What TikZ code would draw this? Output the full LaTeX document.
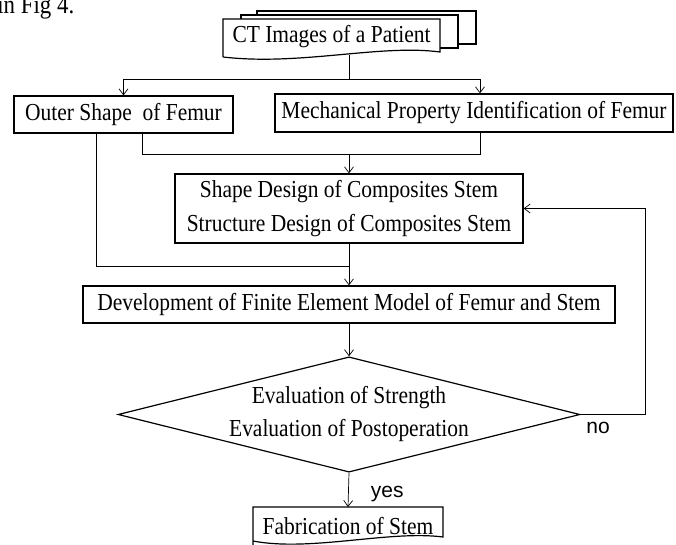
\documentclass[tikz,border=0pt]{standalone}
\usepackage{fontspec}
\setmainfont{Liberation Serif}[FakeStretch=0.88]
\newfontfamily\lblfont{Liberation Sans}
\usepackage{tikz}
\usetikzlibrary{positioning}
\usetikzlibrary{arrows.meta, shapes.geometric}

\begin{document}
\begin{tikzpicture}[x=1pt, y=-1pt, line width=0.7pt,
  box/.style = {draw, line width=1.2pt, inner sep=0pt, font=\fontsize{24.4}{34}\selectfont, align=center},
  decision/.style = {draw, diamond, line width=1.2pt, inner sep=0pt, aspect=4, font=\fontsize{24.4}{33}\selectfont, align=center},
  doc/.style = {inner sep=0pt, font=\fontsize{24.4}{34}\selectfont},
  lbl/.style = {inner sep=0pt, font=\lblfont\fontsize{21}{25}\selectfont},
  >={Straight Barb[length=6pt, width=9pt]}]
\useasboundingbox (0,0) rectangle (676,545);
\clip (0,0) rectangle (676,545);
\node[doc, anchor=base west, font=\fontsize{26}{30}\selectfont] (figref) at (-3,14) {in Fig 4.};
% stack of CT pages
\draw[line width=1.2pt, fill=white] (257,11) rectangle (476,44);
\draw[line width=1.2pt, fill=white] (241,15) rectangle (458,48);
\draw[line width=1.2pt, fill=white] (223,57) -- (223,19) -- (440,19) -- (440,52) .. controls (380,44) and (300,66) .. (223,57);
\node[doc] (ct) at (331.5,37) {CT Images of a Patient};
% output page
\draw[line width=1.2pt] (253,550) -- (253,507) -- (443,507) -- (443,537) .. controls (390,530) and (310,552) .. (253,541);
\node[doc] (fab) at (348,526) {Fabrication of Stem};
\coordinate (fabtop) at (348,507);

\node[box, minimum width=219, minimum height=37] (outer) at (123.5,114.5) {Outer Shape~ of Femur};
\node[box, minimum width=398, minimum height=38] (mech) at (474,113) {Mechanical Property Identification of Femur};
\node[box, minimum width=348, minimum height=69] (shape) at (349,208.5) {Shape Design of Composites Stem\\Structure Design of Composites Stem};
\node[box, minimum width=532, minimum height=37] (dev) at (349,304.5) {Development of Finite Element Model of Femur and Stem};
\node[decision, minimum width=462, minimum height=115] (eval) at (349,414.5) {Evaluation of Strength\\Evaluation of Postoperation};

\coordinate (ctout) at (349,55);
\coordinate (split) at (349,79);
\coordinate (join1) at (349,154);
\coordinate (join2) at (349,266);

\draw (ctout) -- (split);
\draw[->] (split) -| (outer.north);
\draw[->] (split) -| ([xshift=6pt]mech.north);
\draw ([xshift=18.5pt]outer.south) |- (join1);
\draw ([xshift=6pt]mech.south) |- (join1);
\draw[->] (join1) -- (shape.north);
\draw ([xshift=-27.5pt]outer.south) |- (join2);
\draw[->] (shape.south) -- (dev.north);
\draw[->] (dev.south) -- (eval.north);
\draw[->] (eval.south) -- node[lbl, anchor=west, xshift=22pt, yshift=-4pt] {yes} (fabtop);
\draw[->] (eval.east) -- node[lbl, pos=0.27, below=7pt] {no} ++(65,0) |- (shape.east);
\end{tikzpicture}
\end{document}
